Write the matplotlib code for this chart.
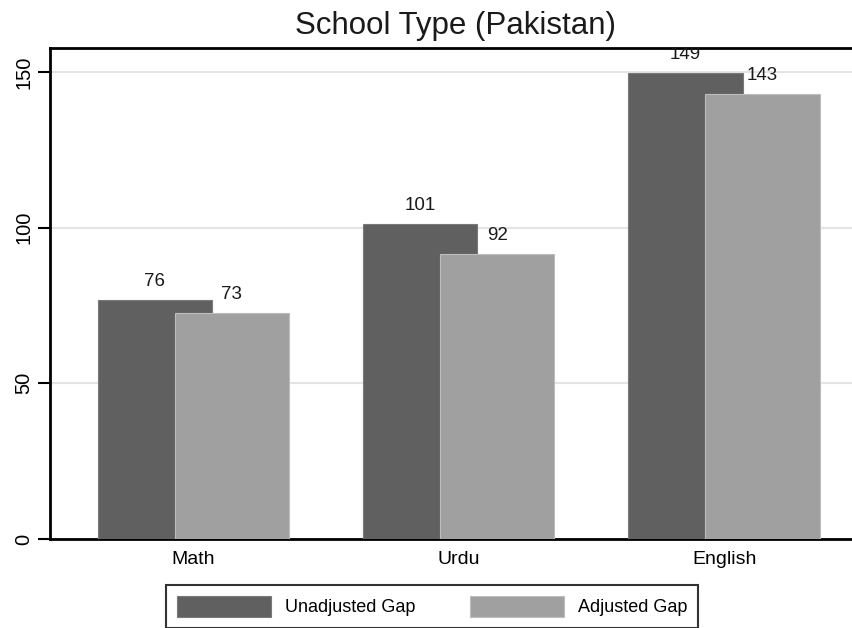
import matplotlib
matplotlib.use("Agg")
import matplotlib.pyplot as plt
import numpy as np

plt.rcParams['font.family'] = ['Liberation Sans', 'DejaVu Sans']

# data
subjects = ["Math", "Urdu", "English"]
unadjusted = [76.8, 101.3, 149.7]
adjusted = [72.6, 91.5, 143.0]
unadj_labels = ["76", "101", "149"]
adj_labels = ["73", "92", "143"]
yticks = [0, 50, 100, 150]

dark = "#606060"
light = "#a0a0a0"

W, H = 853, 628
fig = plt.figure(figsize=(W / 100, H / 100), dpi=100)
# axes runs off the right edge, like the cropped original
ax = fig.add_axes([50 / W, (H - 539) / H, 810 / W, (539 - 48) / H])

x = np.arange(len(subjects))
bw = 0.43
off = 0.145
b1 = ax.bar(x - off, unadjusted, bw, color=dark, edgecolor="#7a7a7a", linewidth=0.8,
            label="Unadjusted Gap", zorder=3)
b2 = ax.bar(x + off, adjusted, bw, color=light, edgecolor="#bdbdbd", linewidth=0.8,
            label="Adjusted Gap", zorder=4)

for bars, labels in [(b1, unadj_labels), (b2, adj_labels)]:
    for rect, txt in zip(bars, labels):
        ax.annotate(txt, (rect.get_x() + rect.get_width() / 2, rect.get_height()),
                    xytext=(0, 7), textcoords="offset points", ha="center", va="bottom",
                    fontsize=13.5, color="#1a1a1a", annotation_clip=False,
                    clip_on=True, zorder=5)

ax.set_xlim(-0.539, 2.512)
ax.set_ylim(0, 157.7)
ax.set_yticks(yticks)
ax.set_yticklabels([str(t) for t in yticks], rotation=90, va="center", fontsize=14.5)
ax.tick_params(axis="y", length=9, width=1.5, pad=3)
ax.set_xticks(x)
ax.set_xticklabels(subjects, fontsize=14)
ax.tick_params(axis="x", length=0, pad=9)

ax.grid(axis="y", color="#e4e4e4", linewidth=1.5, zorder=0)
ax.set_axisbelow(True)
for s in ["left", "bottom", "top"]:
    ax.spines[s].set_linewidth(2.0)
    ax.spines[s].set_color("black")
ax.spines["right"].set_visible(False)

fig.text(456 / W, 1 - 26 / H, "School Type (Pakistan)", ha="center", va="center",
         fontsize=22.5, color="#1a1a1a")

leg = fig.legend(loc="upper left", bbox_to_anchor=(166 / W, 1 - 585 / H), ncol=2,
                 fontsize=13, frameon=True, fancybox=False, handlelength=5.2,
                 handleheight=1.4, handletextpad=0.8, columnspacing=3.0,
                 borderpad=0.6, borderaxespad=0)
leg.get_frame().set_edgecolor("black")
leg.get_frame().set_linewidth(1.5)

fig.savefig("out.png", dpi=100)
